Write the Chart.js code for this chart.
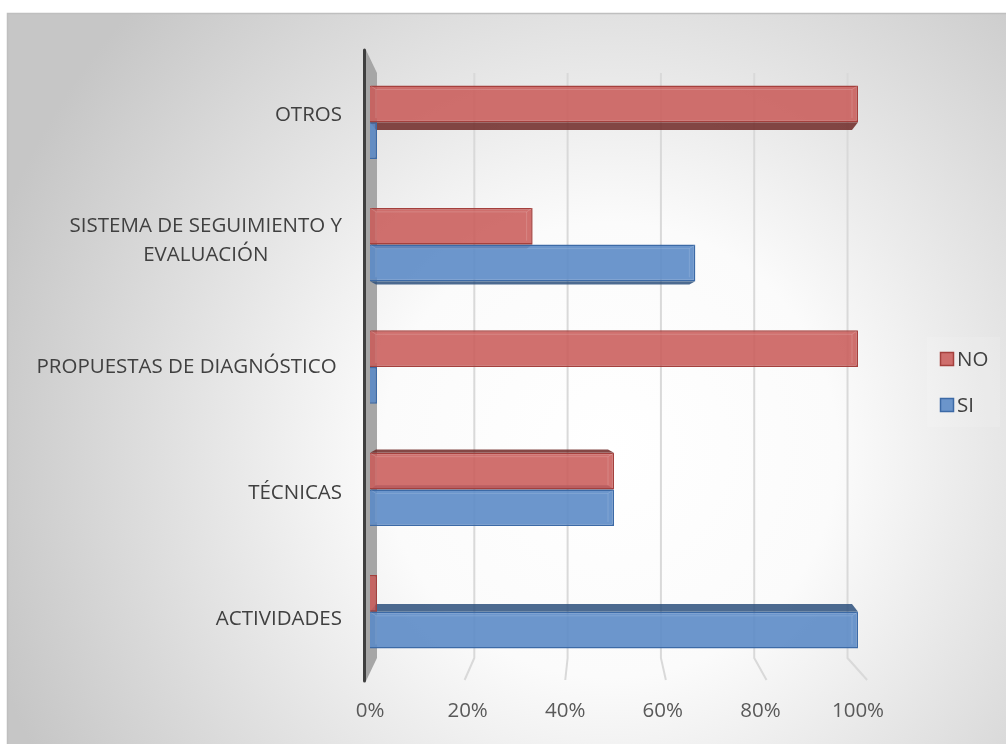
<!DOCTYPE html>
<html>
<head>
<meta charset="utf-8">
<script src="https://cdn.jsdelivr.net/npm/chart.js@4/dist/chart.umd.min.js"></script>
<style>
  html, body { margin: 0; padding: 0; background: #fff; }
  canvas { display: block; }
</style>
</head>
<body>
<canvas id="chart" width="1006" height="744"></canvas>
<script>
// categories top to bottom, series in percent
const categories = ['OTROS', ['SISTEMA DE SEGUIMIENTO Y', 'EVALUACIÓN'], 'PROPUESTAS DE DIAGNÓSTICO ', 'TÉCNICAS', 'ACTIVIDADES'];
const seriesNames = ['NO', 'SI'];
const noValues = [100, 33.33, 100, 50, 0];
const siValues = [0, 66.67, 0, 50, 100];
const xTicks = [0, 20, 40, 60, 80, 100];

const FONT = '"Open Sans", Lato, sans-serif';
const FONT_SIZE = 20.5;
const TEXT = '#404040';

// grey panel with soft radial light and thin border
const backdrop = {
  id: 'backdrop',
  beforeDraw(chart) {
    const { ctx, width, height } = chart;
    ctx.save();
    ctx.fillStyle = '#fff';
    ctx.fillRect(0, 0, width, height);
    const g = ctx.createRadialGradient(610, 450, 0, 610, 450, 650);
    g.addColorStop(0, '#ffffff');
    g.addColorStop(0.35, '#fbfbfb');
    g.addColorStop(1, '#c6c6c6');
    ctx.fillStyle = g;
    ctx.fillRect(7.5, 13.5, width, height);
    ctx.strokeStyle = '#bfbfbf';
    ctx.lineWidth = 1.5;
    ctx.strokeRect(7.5, 13.5, width, height);
    ctx.restore();
  }
};

// side wall, perspective gridlines and bar depth faces
const depth = {
  id: 'depth',
  beforeDatasetsDraw(chart) {
    const { ctx, chartArea: a, scales } = chart;
    const L = a.left, T = a.top, B = a.bottom;
    const back = x => L + 11 + (x - L) * 0.956;
    const front = x => L - 6 + (x - L) * 1.031;
    ctx.save();

    // gridlines: back wall then slanting across the floor
    ctx.strokeStyle = '#d9d9d9';
    ctx.lineWidth = 2;
    xTicks.slice(1).forEach(v => {
      const xb = scales.x.getPixelForValue(v);
      ctx.beginPath();
      ctx.moveTo(back(xb), T + 12);
      ctx.lineTo(back(xb), B - 15);
      ctx.lineTo(front(xb), B + 7);
      ctx.stroke();
    });

    // left wall
    ctx.fillStyle = '#a6a6a6';
    ctx.beginPath();
    ctx.moveTo(L - 4, T - 11);
    ctx.lineTo(L + 7, T + 12);
    ctx.lineTo(L + 7, B - 15);
    ctx.lineTo(L - 4, B + 8);
    ctx.closePath();
    ctx.fill();
    ctx.strokeStyle = '#3f3f3f';
    ctx.lineWidth = 3;
    ctx.lineCap = 'round';
    ctx.beginPath();
    ctx.moveTo(L - 5.5, T - 11);
    ctx.lineTo(L - 5.5, B + 8);
    ctx.stroke();

    // top / underside faces of the bars
    const eye = (T + B) / 2;
    chart.data.datasets.forEach((ds, di) => {
      const meta = chart.getDatasetMeta(di);
      meta.data.forEach(el => {
        const d = (el.y - eye) * 0.03;
        if (Math.abs(d) < 1 || el.x - el.base < 10) return;
        const edge = d < 0 ? el.y + el.height / 2 : el.y - el.height / 2;
        const far = edge - d;
        ctx.fillStyle = ds.depthColor;
        ctx.beginPath();
        ctx.moveTo(el.base, edge);
        ctx.lineTo(el.x, edge);
        ctx.lineTo(el.x - 6, far);
        ctx.lineTo(el.base + 6, far);
        ctx.closePath();
        ctx.fill();
      });
    });
    ctx.restore();
  },
  afterDatasetsDraw(chart) {
    const { ctx } = chart;
    ctx.save();
    ctx.lineWidth = 1;
    chart.data.datasets.forEach((ds, di) => {
      chart.getDatasetMeta(di).data.forEach(el => {
        const x0 = el.base, x1 = el.x;
        if (x1 - x0 < 20) return;
        const y0 = el.y - el.height / 2, y1 = el.y + el.height / 2;
        const i = 6;
        ctx.strokeStyle = ds.bevelColor;
        ctx.beginPath();
        ctx.moveTo(x0 + i, y1 - 4);
        ctx.lineTo(x0 + i, y0 + 4);
        ctx.lineTo(x1 - i, y0 + 4);
        ctx.lineTo(x1 - i, y1 - 4);
        ctx.moveTo(x0, y0); ctx.lineTo(x0 + i, y0 + 4);
        ctx.moveTo(x1, y0); ctx.lineTo(x1 - i, y0 + 4);
        ctx.stroke();
      });
    });
    ctx.restore();
  }
};

// category labels: block right-aligned, lines centred
const catLabels = {
  id: 'catLabels',
  afterDraw(chart) {
    const { ctx, chartArea: a, scales } = chart;
    const eye = (a.top + a.bottom) / 2;
    const lineH = 29;
    ctx.save();
    ctx.font = FONT_SIZE + 'px ' + FONT;
    ctx.fillStyle = TEXT;
    ctx.textAlign = 'center';
    ctx.textBaseline = 'middle';
    chart.data.labels.forEach((lab, i) => {
      const lines = Array.isArray(lab) ? lab : [lab];
      const w = Math.max(...lines.map(s => ctx.measureText(s).width));
      const cx = a.left - 28 - w / 2;
      const yc = eye + (scales.y.getPixelForTick(i) - eye) * 1.03;
      lines.forEach((s, k) => {
        ctx.fillText(s, cx, yc + (k - (lines.length - 1) / 2) * lineH);
      });
    });
    ctx.restore();
  }
};

// legend at the right edge
const sideLegend = {
  id: 'sideLegend',
  afterDraw(chart) {
    const { ctx, width } = chart;
    const bx = width - 79, by = 337;
    ctx.save();
    ctx.fillStyle = 'rgba(255,255,255,0.12)';
    ctx.fillRect(bx, by, 73, 90);
    ctx.font = FONT_SIZE + 'px ' + FONT;
    ctx.textBaseline = 'middle';
    ctx.textAlign = 'left';
    chart.data.datasets.forEach((ds, i) => {
      const y = by + 22 + i * 46;
      ctx.fillStyle = ds.backgroundColor;
      ctx.fillRect(bx + 13.5, y - 6.5, 13, 13);
      ctx.strokeStyle = ds.borderColor;
      ctx.lineWidth = 1.5;
      ctx.strokeRect(bx + 13.5, y - 6.5, 13, 13);
      ctx.fillStyle = TEXT;
      ctx.fillText(ds.label, bx + 30, y + 1);
    });
    ctx.restore();
  }
};

new Chart(document.getElementById('chart'), {
  type: 'bar',
  data: {
    labels: categories,
    datasets: [
      {
        label: seriesNames[0],
        data: noValues,
        backgroundColor: 'rgba(201,92,90,0.88)',
        borderColor: '#a4403d',
        depthColor: 'rgba(110,40,38,0.85)',
        bevelColor: 'rgba(255,255,255,0.16)',
        borderWidth: 1.5
      },
      {
        label: seriesNames[1],
        data: siValues,
        backgroundColor: 'rgba(92,139,198,0.9)',
        borderColor: '#3c6aa6',
        depthColor: 'rgba(45,80,125,0.85)',
        bevelColor: 'rgba(255,255,255,0.14)',
        borderWidth: 1.5
      }
    ]
  },
  options: {
    indexAxis: 'y',
    responsive: false,
    animation: false,
    devicePixelRatio: 1,
    layout: { padding: { top: 61, right: 148, left: 0, bottom: 0 } },
    datasets: {
      bar: { categoryPercentage: 0.6, barPercentage: 1, minBarLength: 7 }
    },
    plugins: {
      legend: { display: false },
      tooltip: { enabled: false }
    },
    scales: {
      y: {
        grid: { display: false },
        border: { display: false },
        ticks: { display: false },
        afterFit(s) { s.width = 370; }
      },
      x: {
        min: 0,
        max: 100,
        grid: { display: false, drawTicks: false },
        border: { display: false },
        ticks: {
          stepSize: 20,
          padding: 26,
          color: '#595959',
          font: { family: FONT, size: FONT_SIZE },
          callback: v => v + '%'
        },
        afterFit(s) { s.height = 71; }
      }
    }
  },
  plugins: [backdrop, depth, catLabels, sideLegend]
});
</script>
</body>
</html>
